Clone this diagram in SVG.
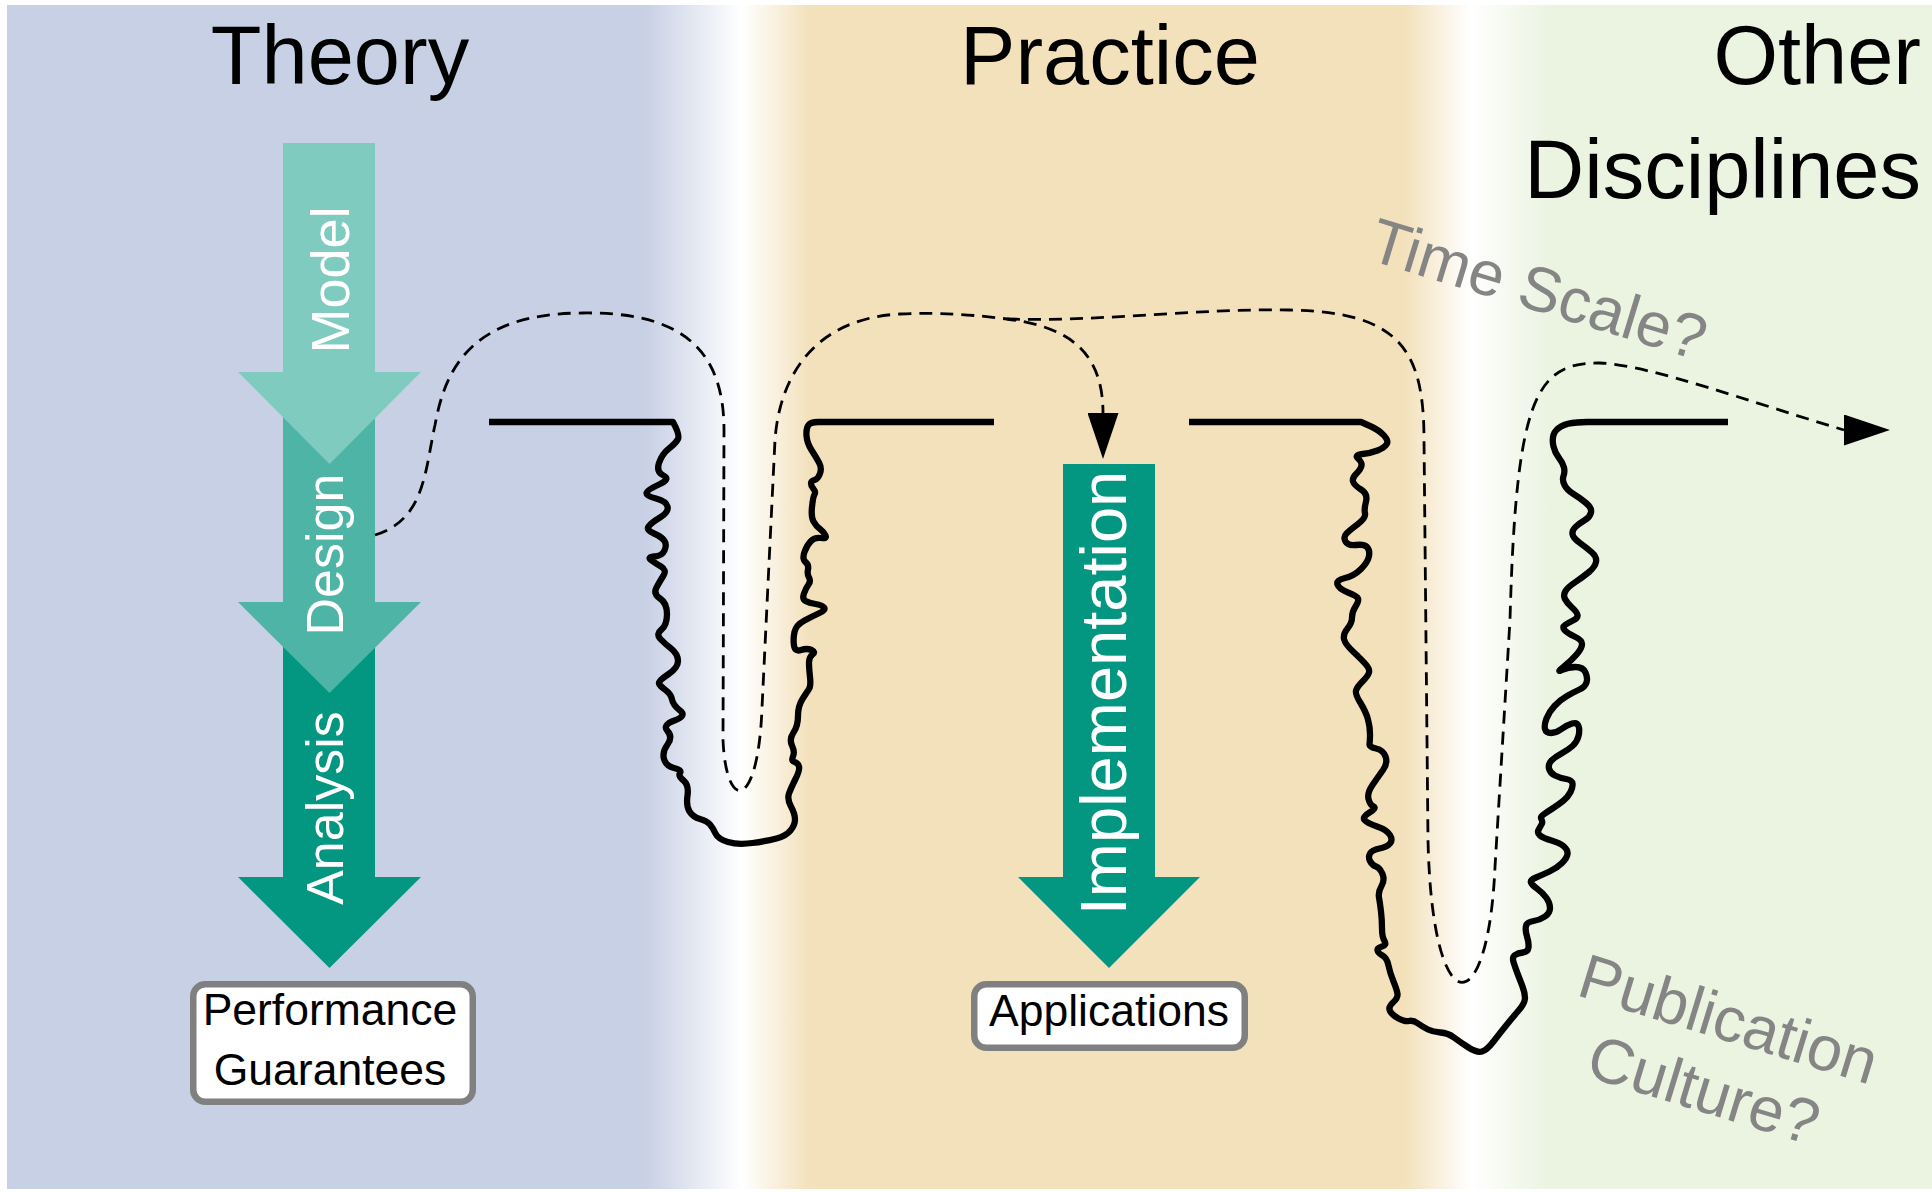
<svg xmlns="http://www.w3.org/2000/svg" width="1932" height="1192" viewBox="0 0 1932 1192">
<defs>
<linearGradient id="bg" gradientUnits="userSpaceOnUse" x1="0" y1="0" x2="1932" y2="0">
<stop offset="0.3339" stop-color="#c8d0e5"/>
<stop offset="0.384" stop-color="#ffffff"/>
<stop offset="0.4193" stop-color="#f3e1bc"/>
<stop offset="0.7272" stop-color="#f3e1bc"/>
<stop offset="0.7609" stop-color="#ffffff"/>
<stop offset="0.8023" stop-color="#ebf3e1"/>
</linearGradient>
<marker id="ahAuto" markerUnits="userSpaceOnUse" markerWidth="46" markerHeight="31" viewBox="0 0 46 31" refX="0" refY="15.5" orient="auto"><path d="M0,0 L46,15.5 L0,31 Z" fill="#000"/></marker>
<marker id="ahRight" markerUnits="userSpaceOnUse" markerWidth="46" markerHeight="31" viewBox="0 0 46 31" refX="0" refY="15.5" orient="0"><path d="M0,0 L46,15.5 L0,31 Z" fill="#000"/></marker>
<style>
.hdr{font-family:"Liberation Sans",Arial,Helvetica,sans-serif;font-size:83px;fill:#000}
.vlab{font-family:"Liberation Sans",Arial,Helvetica,sans-serif;fill:#fff;text-anchor:middle}
.q{font-family:"Liberation Sans",Arial,Helvetica,sans-serif;font-size:63px;fill:#858585}
.box{fill:#fff;stroke:#808080;stroke-width:6.5}
.boxt{font-family:"Liberation Sans",Arial,Helvetica,sans-serif;font-size:44.5px;fill:#000;text-anchor:middle}
.ground{fill:none;stroke:#000;stroke-width:6.3;stroke-linejoin:round;stroke-linecap:butt}
.dash{fill:none;stroke:#000;stroke-width:2.8;stroke-dasharray:13 8}
</style>
</defs>

<rect id="background" x="7" y="5" width="1925" height="1184" fill="url(#bg)"/>

<g id="headers">
<text class="hdr" x="340" y="84" text-anchor="middle">Theory</text>
<text class="hdr" x="1110" y="84" text-anchor="middle">Practice</text>
<text class="hdr" x="1921" y="84" text-anchor="end">Other</text>
<text class="hdr" x="1921" y="198" text-anchor="end">Disciplines</text>
</g>

<g id="analysis">
<polygon points="283,602 375,602 375,877 421,877 329.5,968 238,877 283,877" fill="#039680"/>
<text class="vlab" font-size="52" transform="translate(343,808) rotate(-90)">Analysis</text>
</g>
<g id="design">
<polygon points="283,372 375,372 375,602 421,602 329.5,693 238,602 283,602" fill="#4eb4a6"/>
<text class="vlab" font-size="52" transform="translate(343,554.5) rotate(-90)">Design</text>
</g>
<g id="model">
<polygon points="283,143 375,143 375,372 421,372 329.5,464 238,372 283,372" fill="#80cbbf"/>
<text class="vlab" font-size="54" transform="translate(349,280) rotate(-90)">Model</text>
</g>

<g id="performance-guarantees">
<rect class="box" x="193.25" y="984.25" width="279.5" height="117.5" rx="12"/>
<text class="boxt" x="330" y="1025">Performance</text>
<text class="boxt" x="330" y="1085">Guarantees</text>
</g>

<g id="implementation">
<polygon points="1063,464 1155,464 1155,877 1200,877 1109,968 1018,877 1063,877" fill="#039680"/>
<text class="vlab" font-size="65" transform="translate(1126,693) rotate(-90)">Implementation</text>
</g>

<g id="applications">
<rect class="box" x="974.25" y="984.25" width="270.5" height="63.5" rx="12"/>
<text class="boxt" x="1109" y="1026">Applications</text>
</g>

<g id="terrain">
<path class="ground" d="M 489 422 L 673 422 Q 680 435 678 439 Q 676 443 669 448.5 Q 662 454 659 463 Q 656 472 663.5 475.5 Q 671 479 659 484.5 Q 647 490 646.5 493 Q 646 496 656 498.5 Q 666 501 667.5 506.5 Q 669 512 660 517.5 Q 651 523 648.5 526.5 Q 646 530 654 533.5 Q 662 537 664.5 541 Q 667 545 664.5 550.5 Q 662 556 654.5 556.5 Q 647 557 651 560 Q 655 563 661 566.5 Q 667 570 663.5 575.5 Q 660 581 656.5 587.5 Q 653 594 660 598.5 Q 667 603 667 614 Q 667 625 661.5 629.5 Q 656 634 660 638.5 Q 664 643 671 648.5 Q 678 654 678 661 Q 678 668 668 674.5 Q 658 681 659 683.5 Q 660 686 665.5 690 Q 671 694 672 699.5 Q 673 705 680 710.5 Q 687 716 674.5 720.5 Q 662 725 667.5 731 Q 673 737 667.5 744.5 Q 662 752 664 759 Q 666 766 674 768 Q 682 770 680 773 Q 678 776 683.5 780.5 Q 689 785 687.5 795.5 Q 686 806 689.5 811.5 Q 693 817 700 819 Q 707 821 710 824.5 Q 713 828 715.5 833.5 Q 718 839 728 842 Q 738 845 752.5 843 Q 767 841 776.5 838.5 Q 786 836 790.5 830.5 Q 795 825 795 819.5 Q 795 814 791 806.5 Q 787 799 789 793.5 Q 791 788 795.5 779 Q 800 770 799 766.5 Q 798 763 794.5 762 Q 791 761 793 756.5 Q 795 752 792 745.5 Q 789 739 793.5 732.5 Q 798 726 798 716 Q 798 706 802.5 699 Q 807 692 809 689 Q 811 686 810 677 Q 809 668 809 662.5 Q 809 657 812.5 654.5 Q 816 652 811.5 650 Q 807 648 801 650 Q 795 652 794 645.5 Q 793 639 794.5 632 Q 796 625 804.5 620.5 Q 813 616 819.5 613 Q 826 610 824 607.5 Q 822 605 815.5 604 Q 809 603 805.5 601 Q 802 599 804 593.5 Q 806 588 808.5 584.5 Q 811 581 809 577.5 Q 807 574 808 569.5 Q 809 565 805.5 562 Q 802 559 804.5 552 Q 807 545 811 541 Q 815 537 821 538 Q 827 539 825.5 535.5 Q 824 532 820 529 Q 816 526 813.5 521.5 Q 811 517 812 507 Q 813 497 814.5 494.5 Q 816 492 813.5 489 Q 811 486 811 483.5 Q 811 481 814.5 480 Q 818 479 820 473.5 Q 822 468 819 462.5 Q 816 457 811.5 450 Q 807 443 806.5 435.5 Q 806 428 808.5 425 Q 811 422 818 422 L 994 422"/>
<path class="ground" d="M 1189 422 L 1361 422 L 1370 426 Q 1379 430 1384 435.5 Q 1389 441 1386.5 444.5 Q 1384 448 1377.5 450.5 Q 1371 453 1362.5 454 Q 1354 455 1358 458.5 Q 1362 462 1361.5 465.5 Q 1361 469 1356.5 473.5 Q 1352 478 1353 481.5 Q 1354 485 1361 489.5 Q 1368 494 1366 501.5 Q 1364 509 1365 513.5 Q 1366 518 1358 524 Q 1350 530 1346.5 533.5 Q 1343 537 1345.5 541.5 Q 1348 546 1356 545 Q 1364 544 1367 547 Q 1370 550 1369 556 Q 1368 562 1361 569 Q 1354 576 1345 578 Q 1336 580 1337.5 584.5 Q 1339 589 1348 592.5 Q 1357 596 1358 598.5 Q 1359 601 1355.5 606.5 Q 1352 612 1352 617.5 Q 1352 623 1347.5 628.5 Q 1343 634 1344 639 Q 1345 644 1353 651.5 Q 1361 659 1365.5 664 Q 1370 669 1369 672.5 Q 1368 676 1362.5 681.5 Q 1357 687 1356 690.5 Q 1355 694 1360.5 703 Q 1366 712 1368 719.5 Q 1370 727 1370 734 Q 1370 741 1369.5 744 Q 1369 747 1376 748.5 Q 1383 750 1385.5 756.5 Q 1388 763 1383 770 Q 1378 777 1372.5 785 Q 1367 793 1368.5 799 Q 1370 805 1373.5 806.5 Q 1377 808 1369.5 812.5 Q 1362 817 1364.5 820 Q 1367 823 1377 826.5 Q 1387 830 1390 835 Q 1393 840 1390 843.5 Q 1387 847 1379.5 848.5 Q 1372 850 1370 853.5 Q 1368 857 1370 861 Q 1372 865 1376 866.5 Q 1380 868 1382.5 874 Q 1385 880 1381.5 886 Q 1378 892 1379 897.5 Q 1380 903 1381 911.5 Q 1382 920 1382 928.5 Q 1382 937 1384.5 941 Q 1387 945 1382 946.5 Q 1377 948 1377.5 950.5 Q 1378 953 1382.5 955.5 Q 1387 958 1388.5 965.5 Q 1390 973 1393.5 981.5 Q 1397 990 1397.5 994 Q 1398 998 1393 1002.5 Q 1388 1007 1390 1011 Q 1392 1015 1398.5 1018.5 Q 1405 1022 1409 1021 Q 1413 1020 1418 1023.5 Q 1423 1027 1428 1029.5 Q 1433 1032 1440.5 1032.5 Q 1448 1033 1454 1037.5 Q 1460 1042 1468.5 1047.5 Q 1477 1053 1482 1051.5 Q 1487 1050 1493.5 1041.5 Q 1500 1033 1506.5 1025 Q 1513 1017 1519 1010 Q 1525 1003 1525 998 Q 1525 993 1522.5 986.5 Q 1520 980 1517.5 973.5 Q 1515 967 1513.5 962 Q 1512 957 1515 955 Q 1518 953 1523 952.5 Q 1528 952 1528.5 947.5 Q 1529 943 1527 936.5 Q 1525 930 1526 926 Q 1527 922 1533.5 921 Q 1540 920 1545 916.5 Q 1550 913 1550 908 Q 1550 903 1546.5 898 Q 1543 893 1537.5 889 Q 1532 885 1531 882.5 Q 1530 880 1536 877.5 Q 1542 875 1549.5 871.5 Q 1557 868 1562 863 Q 1567 858 1567.5 854 Q 1568 850 1564 846.5 Q 1560 843 1551.5 840.5 Q 1543 838 1540 835.5 Q 1537 833 1538.5 830 Q 1540 827 1541.5 824.5 Q 1543 822 1541.5 819.5 Q 1540 817 1543.5 814.5 Q 1547 812 1552.5 808.5 Q 1558 805 1563 801 Q 1568 797 1570.5 792 Q 1573 787 1572.5 783.5 Q 1572 780 1566 779 Q 1560 778 1555 775.5 Q 1550 773 1549 768.5 Q 1548 764 1551.5 760.5 Q 1555 757 1561.5 753.5 Q 1568 750 1572.5 746 Q 1577 742 1578.5 736 Q 1580 730 1578.5 726 Q 1577 722 1572 723.5 Q 1567 725 1561.5 729 Q 1556 733 1551 733 Q 1546 733 1545 729 Q 1544 725 1546.5 718.5 Q 1549 712 1554.5 706 Q 1560 700 1567 696 Q 1574 692 1579.5 689.5 Q 1585 687 1586.5 682.5 Q 1588 678 1585.5 672.5 Q 1583 667 1575.5 667 Q 1568 667 1562 670 Q 1556 673 1564 666.5 Q 1572 660 1577 654 Q 1582 648 1582 644 Q 1582 640 1574.5 636.5 Q 1567 633 1564.5 630 Q 1562 627 1565 625 Q 1568 623 1573 620.5 Q 1578 618 1577.5 615 Q 1577 612 1572 607.5 Q 1567 603 1565 599 Q 1563 595 1565.5 591 Q 1568 587 1575.5 582 Q 1583 577 1589 572 Q 1595 567 1596 562 Q 1597 557 1592 552.5 Q 1587 548 1580 543 Q 1573 538 1572.5 534 Q 1572 530 1576 526.5 Q 1580 523 1585 520 Q 1590 517 1591 512.5 Q 1592 508 1586 503 Q 1580 498 1573.5 494 Q 1567 490 1564.5 485 Q 1562 480 1563.5 476 Q 1565 472 1564 467.5 Q 1563 463 1559 458 Q 1555 453 1553.5 446.5 Q 1552 440 1553.5 435 Q 1555 430 1561 426.5 Q 1567 423 1577 422.5 L 1587 422 L 1728 422"/>
</g>

<g id="connectors">
<path class="dash" marker-end="url(#ahAuto)" d="M 375 535 C 425 520, 425 470, 435 425 C 445 370, 470 313, 583 313 C 670 312, 724 340, 724 430 L 723 740 C 726 812, 758 812, 762 708 L 775 440 C 780 370, 820 318, 900 314 C 940 312, 975 315, 1007 319 C 1060 326, 1103 345, 1103 413"/>
<path class="dash" marker-end="url(#ahRight)" d="M 1007 319 C 1100 322, 1200 308, 1290 310 C 1400 312, 1424 350, 1424 440 L 1428 840 C 1432 1025, 1488 1025, 1495 867 L 1510 620 C 1516 400, 1535 362, 1600 363 C 1650 365, 1750 402, 1844 430"/>
</g>

<g id="labels">
<text class="q" transform="translate(1366,259) rotate(17)">Time Scale?</text>
<text class="q" text-anchor="middle" transform="translate(1576,995) rotate(17)"><tspan x="153" y="0">Publication</tspan><tspan x="150" y="75">Culture?</tspan></text>
</g>
</svg>
